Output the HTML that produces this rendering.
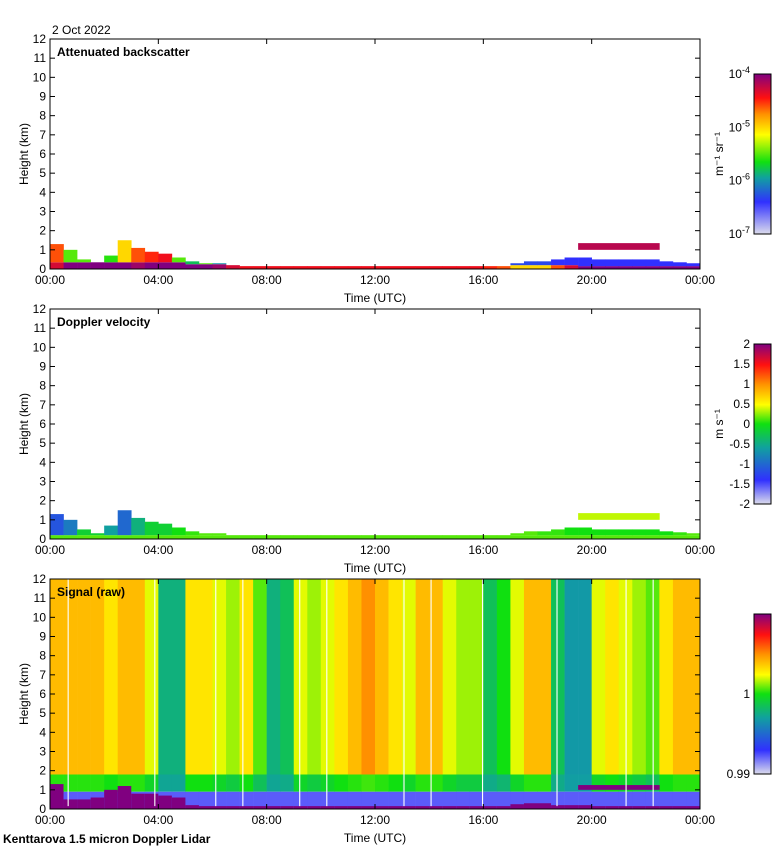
<!DOCTYPE html>
<html><head><meta charset="utf-8"><style>
body{margin:0;background:#fff}
svg text{font-family:"Liberation Sans",sans-serif;font-size:12px;fill:#000}
</style></head><body>
<svg id="s" width="780" height="850" xmlns="http://www.w3.org/2000/svg">
<defs>
<linearGradient id="gBeta" x1="0" y1="1" x2="0" y2="0">
<stop offset="0" stop-color="#dcdcec"/><stop offset="0.2" stop-color="#3030ff"/><stop offset="0.35" stop-color="#10a0a0"/><stop offset="0.45" stop-color="#10e010"/><stop offset="0.62" stop-color="#ffff00"/><stop offset="0.75" stop-color="#ff9000"/><stop offset="0.85" stop-color="#ff1010"/><stop offset="1" stop-color="#800080"/></linearGradient>
<linearGradient id="gVel" x1="0" y1="1" x2="0" y2="0">
<stop offset="0" stop-color="#dcdcec"/><stop offset="0.15" stop-color="#3030ff"/><stop offset="0.35" stop-color="#10a0a0"/><stop offset="0.5" stop-color="#10e010"/><stop offset="0.62" stop-color="#ffff00"/><stop offset="0.75" stop-color="#ff9000"/><stop offset="0.87" stop-color="#ff1010"/><stop offset="1" stop-color="#800080"/></linearGradient>
</defs>
<text x="52" y="34">2 Oct 2022</text>
<text x="3" y="843" style="font-weight:bold">Kenttarova 1.5 micron Doppler Lidar</text>
<g id="marks"></g>
<g id="axes"></g>
</svg>
<script>
// ---- data (30-min columns, 48 per day) ----
const times = Array.from({length:48},(_,i)=>i*0.5);
const betaBaseTop = [0.35,0.35,0.35,0.35,0.35,0.35,0.35,0.35,0.35,0.35,0.25,0.25,0.25,0.2,0.15,0.15,0.15,0.15,0.15,0.15,0.15,0.15,0.15,0.15,0.15,0.15,0.15,0.15,0.15,0.15,0.15,0.15,0.15,0.15,0.2,0.2,0.2,0.2,0.2,0.15,0.15,0.15,0.15,0.15,0.15,0.15,0.15,0.15];
const betaBaseVal = [-4.3,-4,-4,-4,-4,-4,-4.1,-4,-4,-4,-4,-4,-4.1,-4.3,-4.4,-4.4,-4.4,-4.4,-4.4,-4.4,-4.4,-4.4,-4.4,-4.4,-4.4,-4.4,-4.4,-4.4,-4.4,-4.4,-4.4,-4.4,-4.5,-4.6,-5,-5,-5,-4.6,-4.3,-4,-4,-4,-4,-4,-4,-4,-4,-4];
const aerTop = [1.3,1.0,0.5,0.3,0.7,1.5,1.1,0.9,0.8,0.6,0.4,0.3,0.3,0,0,0,0,0,0,0,0,0,0,0,0,0,0,0,0,0,0,0,0,0,0.3,0.4,0.4,0.5,0.6,0.6,0.5,0.5,0.5,0.5,0.5,0.4,0.35,0.3];
const aerBeta = [-4.6,-5.5,-5.5,-5.5,-5.6,-5,-4.6,-4.5,-4.4,-5.5,-5.8,-5.5,-6,-6,-6,-6,-6,-6,-6,-6,-6,-6,-6,-6,-6,-6,-6,-6,-6,-6,-6,-6,-6,-6,-6.3,-6.3,-6.3,-6.4,-6.4,-6.4,-6.4,-6.4,-6.4,-6.4,-6.4,-6.4,-6.4,-6.4];
const aerVel = [-1,-0.8,-0.3,-0.3,-0.6,-0.9,-0.5,-0.3,-0.3,-0.2,-0.1,0,0,0,0,0,0,0,0,0,0,0,0,0,0,0,0,0,0,0,0,0,0,0,0,0,-0.1,-0.1,-0.2,-0.2,-0.2,-0.2,-0.2,-0.2,-0.2,-0.2,-0.1,0];
const cloudStart = 19.5, cloudEnd = 22.5, cloudBase = 1.0, cloudTopKm = 1.35, cloudBeta = -4.2, cloudVel = 0.3;
const sigUpper = [1.004,1.004,1.004,1.004,1.003,1.004,1.004,1.002,0.9975,0.9975,1.003,1.003,1.002,1.001,1.003,1.0,0.9975,0.998,1.002,1.001,1.002,1.003,1.004,1.005,1.004,1.003,1.002,1.004,1.004,1.002,1.001,1.001,0.998,0.999,1.002,1.004,1.004,0.998,0.9968,0.9968,1.002,1.003,1.002,1.001,1.0,1.003,1.004,1.004];
const sigPurpleTop = [1.3,0.5,0.5,0.6,1.0,1.2,0.8,0.8,0.7,0.6,0.2,0.15,0.15,0.15,0.15,0.15,0.15,0.15,0.15,0.15,0.15,0.15,0.15,0.15,0.15,0.15,0.15,0.15,0.15,0.15,0.15,0.15,0.15,0.15,0.25,0.3,0.3,0.2,0.2,0.2,0.15,0.15,0.15,0.15,0.15,0.15,0.15,0.15];
const sigGaps = [0.65,3.85,6.1,7.1,9.2,10.2,13.05,14.05,15.95,18.7,21.25,22.25];
const yTicks = [0,1,2,3,4,5,6,7,8,9,10,11,12];
const xTickLabels = ["00:00","04:00","08:00","12:00","16:00","20:00","00:00"];
const velCbTicks = ["2","1.5","1","0.5","0","-0.5","-1","-1.5","-2"];

const NS="http://www.w3.org/2000/svg";
const marks=document.getElementById('marks'), axes=document.getElementById('axes');
const X0=50,X1=700;
const panels=[{top:39,bot:269},{top:309,bot:539},{top:579,bot:809}];
const xs=t=>X0+t/24*(X1-X0);
const ys=(p,h)=>panels[p].bot-h*(panels[p].bot-panels[p].top)/12;
function lerpCol(stops,v){
  if(v<=stops[0][0])return `rgb(${stops[0][1]})`;
  for(let i=1;i<stops.length;i++){if(v<=stops[i][0]){const a=stops[i-1],b=stops[i],f=(v-a[0])/(b[0]-a[0]);
    const c=a[1].map((x,k)=>Math.round(x+(b[1][k]-x)*f));return `rgb(${c})`;}}
  return `rgb(${stops[stops.length-1][1]})`;}
const cmap=[[0,[220,220,236]],[0.2,[48,48,255]],[0.35,[16,160,160]],[0.45,[16,224,16]],[0.62,[255,255,0]],[0.75,[255,144,0]],[0.85,[255,16,16]],[1,[128,0,128]]];
const betaCol=v=>lerpCol(cmap,(v+7)/3);
const velCol=v=>lerpCol(cmap,(v+2)/4);
const sigCol=v=>lerpCol(cmap,(v-0.99)/0.02);
function rect(p,t0,t1,h0,h1,fill,name){
  const r=document.createElementNS(NS,'rect');
  r.setAttribute('x',xs(t0));r.setAttribute('width',xs(t1)-xs(t0)+0.3);
  r.setAttribute('y',ys(p,h1));r.setAttribute('height',Math.max(0,ys(p,h0)-ys(p,h1)));
  r.setAttribute('fill',fill);
  
  
  marks.appendChild(r);}
times.forEach((t,i)=>{
  rect(0,t,t+0.5,0,betaBaseTop[i],betaCol(betaBaseVal[i]),'backscatter-cell');
  if(aerTop[i]>betaBaseTop[i]) rect(0,t,t+0.5,betaBaseTop[i],aerTop[i],betaCol(aerBeta[i]),'backscatter-cell');
  rect(1,t,t+0.5,0,0.2,velCol(0),'velocity-cell');
  if(aerTop[i]>0.2) rect(1,t,t+0.5,0.2,aerTop[i],velCol(aerVel[i]),'velocity-cell');
  rect(2,t,t+0.5,1.8,12,sigCol(sigUpper[i]),'signal-cell');
  rect(2,t,t+0.5,0.9,1.8,sigCol((sigUpper[i]+0.997*2)/3),'signal-cell');
  rect(2,t,t+0.5,0,0.9,sigCol(0.993),'signal-cell');
  rect(2,t,t+0.5,0,sigPurpleTop[i],sigCol(1.01),'signal-cell');
});
rect(0,cloudStart,cloudEnd,cloudBase,cloudTopKm,betaCol(cloudBeta),'cloud-backscatter');
rect(1,cloudStart,cloudEnd,cloudBase,cloudTopKm,velCol(cloudVel),'cloud-velocity');
rect(2,cloudStart,cloudEnd,cloudBase,cloudTopKm-0.1,sigCol(1.01),'cloud-signal');
sigGaps.forEach(g=>rect(2,g,g+0.03,0.15,12,'#ffffff','signal-gap'));

function el(tag,attrs,txt){const e=document.createElementNS(NS,tag);for(const k in attrs)e.setAttribute(k,attrs[k]);if(txt!=null)e.textContent=txt;axes.appendChild(e);return e;}
const titles=["Attenuated backscatter","Doppler velocity","Signal (raw)"];
panels.forEach((P,p)=>{
  el('rect',{x:X0,y:P.top,width:X1-X0,height:P.bot-P.top,fill:'none',stroke:'#000','stroke-width':1,});
  yTicks.forEach(v=>{const y=ys(p,v);
    el('line',{x1:X0,x2:X0+5,y1:y,y2:y,stroke:'#000',});
    el('line',{x1:X1-5,x2:X1,y1:y,y2:y,stroke:'#000',});
    el('text',{x:X0-4,y:y+4,'text-anchor':'end',},String(v));});
  xTickLabels.forEach((l,i)=>{const x=xs(i*4);
    el('line',{x1:x,x2:x,y1:P.bot,y2:P.bot-5,stroke:'#000',});
    el('line',{x1:x,x2:x,y1:P.top,y2:P.top+5,stroke:'#000',});
    el('text',{x:x,y:P.bot+15,'text-anchor':'middle',},l);});
  el('text',{x:375,y:P.bot+33,'text-anchor':'middle',},'Time (UTC)');
  el('text',{transform:`translate(28,${(P.top+P.bot)/2}) rotate(-90)`,'text-anchor':'middle',},'Height (km)');
  el('text',{x:57,y:P.top+17,style:'font-weight:bold',},titles[p]);
  const cy=P.top+35;
  el('rect',{x:754,y:cy,width:17,height:160,fill:p==0?'url(#gBeta)':'url(#gVel)',stroke:'#000',});
});
[-4,-5,-6,-7].forEach((e,i)=>{const t=el('text',{x:750,y:78+i*53.3,'text-anchor':'end',},'10');
  const s=document.createElementNS(NS,'tspan');s.setAttribute('dy','-5');s.setAttribute('font-size','9');s.textContent=String(e);t.appendChild(s);});
el('text',{transform:'translate(723,154) rotate(-90)','text-anchor':'middle',},'m\u207B\u00B9 sr\u207B\u00B9');
velCbTicks.forEach((l,i)=>el('text',{x:750,y:348+i*20,'text-anchor':'end',},l));
el('text',{transform:'translate(723,424) rotate(-90)','text-anchor':'middle',},'m s\u207B\u00B9');
el('text',{x:750,y:698,'text-anchor':'end',},'1');
el('text',{x:750,y:778,'text-anchor':'end',},'0.99');
</script>
</body></html>
